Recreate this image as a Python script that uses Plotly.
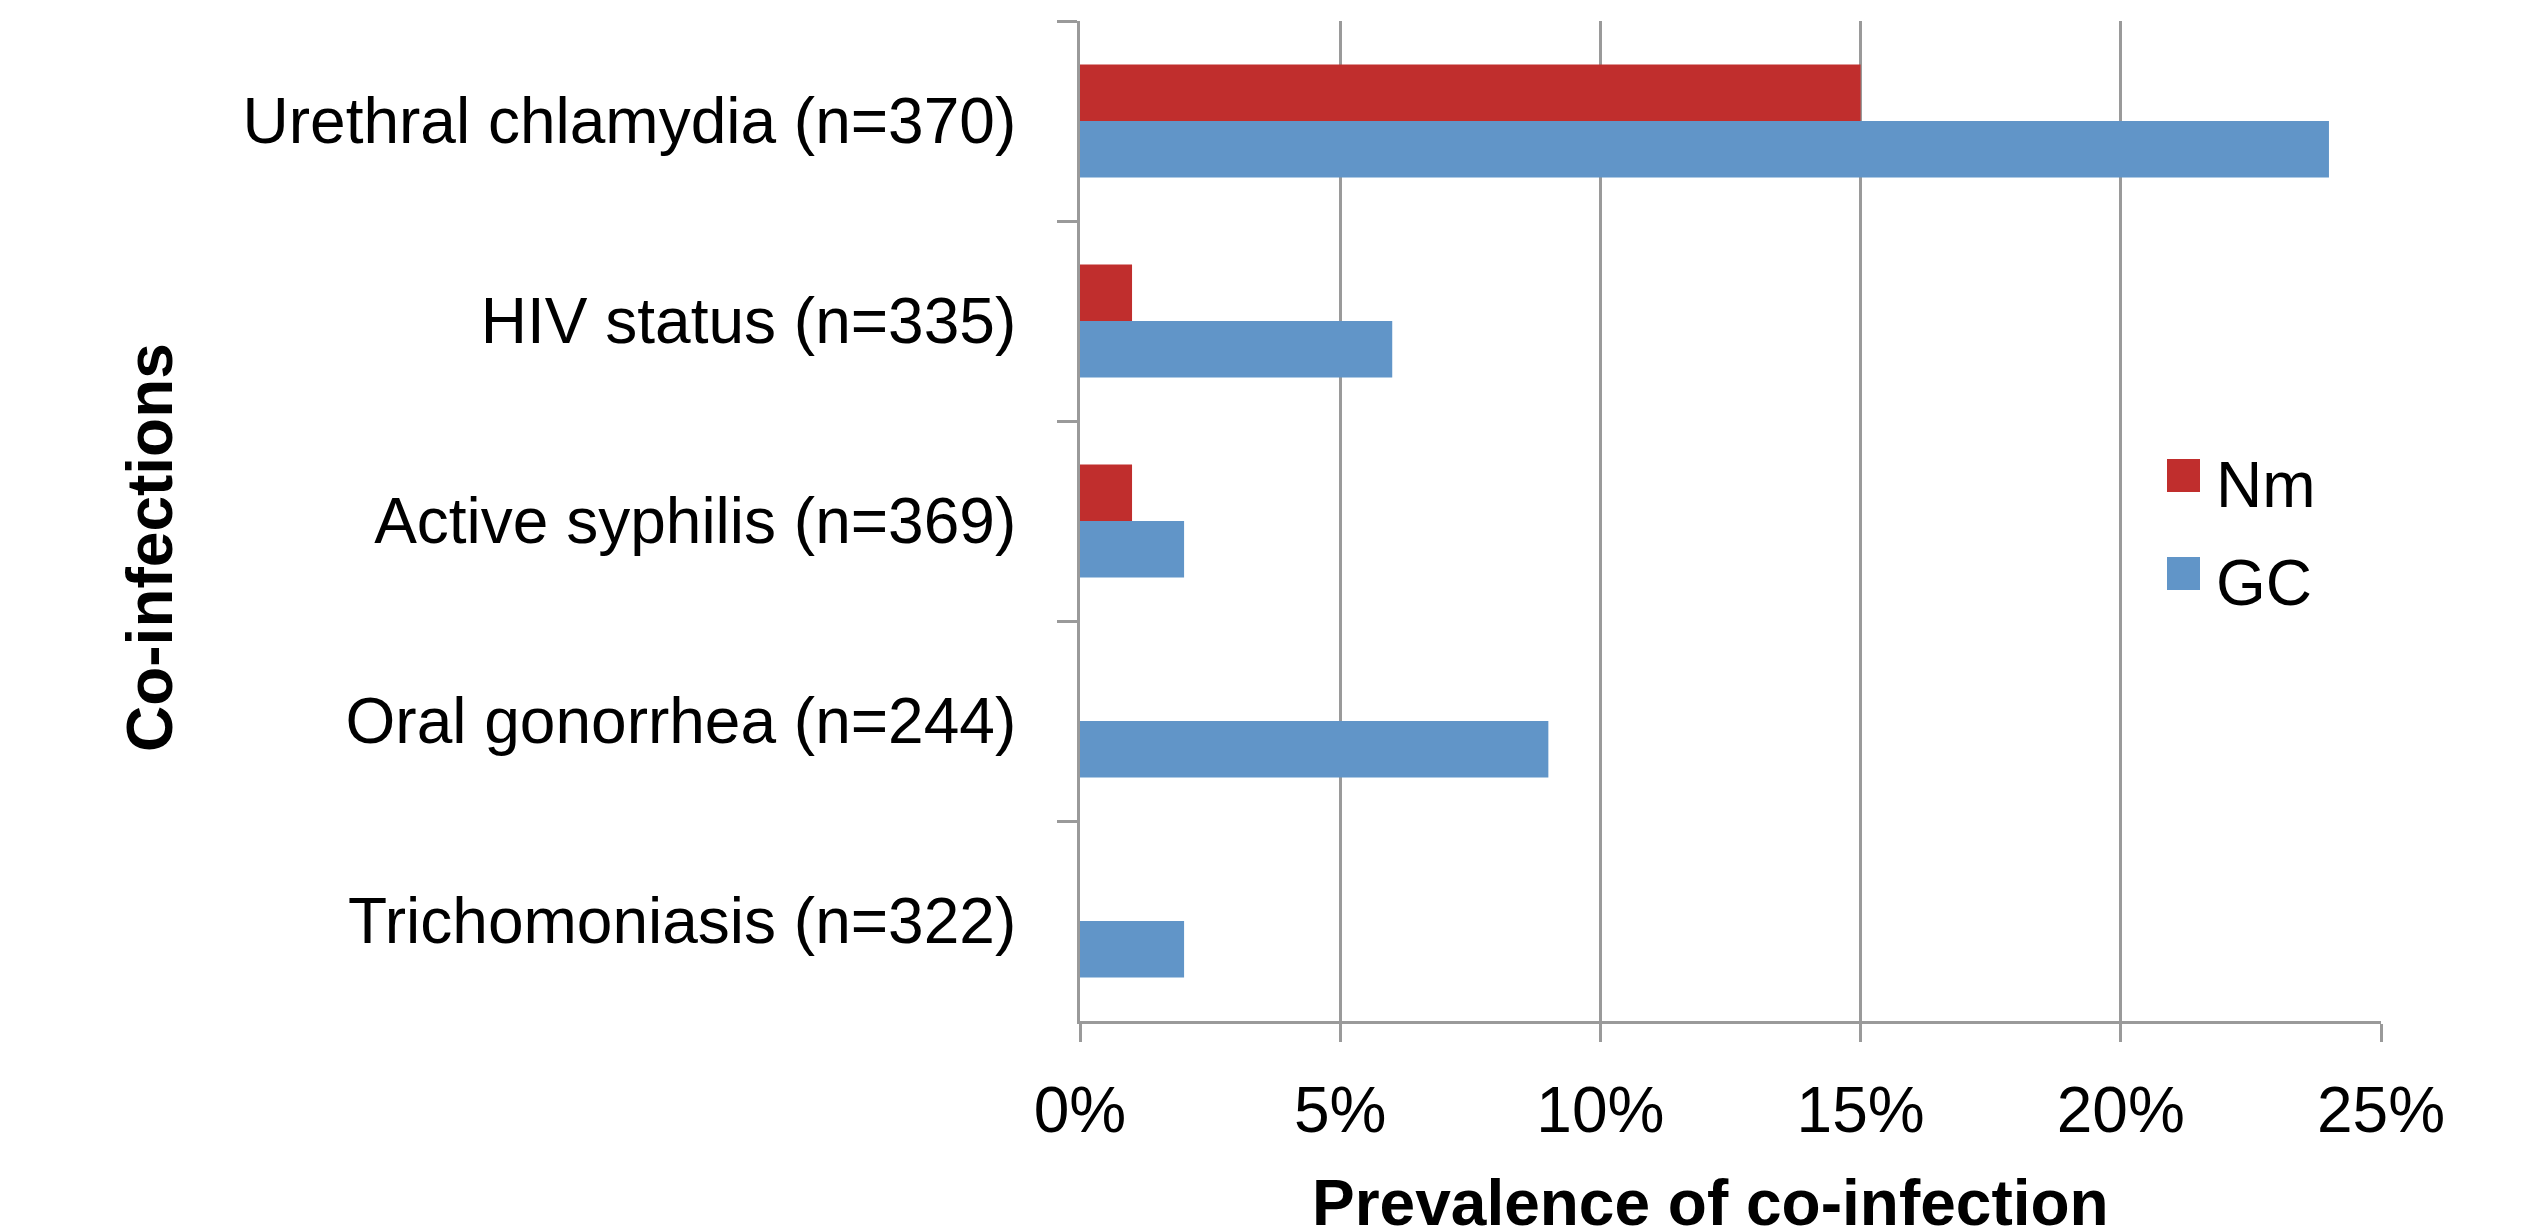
import plotly.graph_objects as go

categories = [
    "Urethral chlamydia (n=370)",
    "HIV status (n=335)",
    "Active syphilis (n=369)",
    "Oral gonorrhea (n=244)",
    "Trichomoniasis (n=322)",
]
series_names = ["Nm", "GC"]
nm_values = [0.15, 0.01, 0.01, 0.0, 0.0]
gc_values = [0.24, 0.06, 0.02, 0.09, 0.02]
series_values = [nm_values, gc_values]
colors = ["#C02E2D", "#6195C8"]
x_tick_vals = [0, 0.05, 0.10, 0.15, 0.20, 0.25]

FONT = "Liberation Sans, Arial, sans-serif"
GRID = "#9A9A9A"

# the page body has a default 8px margin; compensate so the screen matches
OFF = 8
SW, SH = 2530, 1232
W, H = SW - OFF, SH - OFF
# target plot area in screen pixels
PX0, PX1, PY0, PY1 = 1080, 2381, 21, 1021
L = PX0 - OFF
T = PY0 - OFF
R = W - (PX1 - OFF)
B = H - (PY1 - OFF)
pw = PX1 - PX0
ph = PY1 - PY0

fig = go.Figure()
for name, vals, col in zip(series_names, series_values, colors):
    fig.add_trace(go.Bar(
        y=categories, x=vals, name=name, orientation="h",
        marker=dict(color=col, line=dict(width=0)),
        showlegend=False,
    ))

def px_x(xp):
    return (xp - PX0) / pw

def px_y(yp):
    return (PY1 - yp) / ph

shapes = []
annotations = []
# manual legend (large square keys)
leg_x0, leg_y0, sq, step = 2167, 459, 33, 98
for i, (name, col) in enumerate(zip(series_names, colors)):
    y0 = leg_y0 + i * step
    shapes.append(dict(type="rect", xref="paper", yref="paper",
                       x0=px_x(leg_x0), x1=px_x(leg_x0 + sq),
                       y0=px_y(y0 + sq), y1=px_y(y0),
                       fillcolor=col, line=dict(width=0)))
    annotations.append(dict(text=name, xref="paper", yref="paper",
                            x=px_x(leg_x0 + sq + 14), y=px_y(y0 + sq / 2 + 9),
                            xanchor="left", yanchor="middle", showarrow=False,
                            font=dict(family=FONT, size=64, color="black")))

# axis titles
annotations.append(dict(text="<b>Prevalence of co-infection</b>", xref="paper", yref="paper",
                        x=px_x(1710), y=px_y(1203), xanchor="center", yanchor="middle",
                        showarrow=False, font=dict(family=FONT, size=64, color="black")))
annotations.append(dict(text="<b>Co-infections</b>", xref="paper", yref="paper",
                        x=px_x(150), y=px_y(547), xanchor="center", yanchor="middle",
                        textangle=-90, showarrow=False,
                        font=dict(family=FONT, size=64, color="black")))

fig.update_layout(
    width=W, height=H,
    margin=dict(l=L, r=R, t=T, b=B, autoexpand=False),
    paper_bgcolor="white", plot_bgcolor="white",
    barmode="group", bargap=0.435, bargroupgap=0,
    font=dict(family=FONT, size=64, color="black"),
    shapes=shapes, annotations=annotations,
    showlegend=False,
)
fig.update_xaxes(
    range=[0, 0.25], tickvals=x_tick_vals, tickformat=".0%",
    showgrid=True, gridcolor=GRID, gridwidth=3,
    showline=True, linecolor=GRID, linewidth=3,
    ticks="outside", ticklen=18, tickwidth=3, tickcolor=GRID,
    ticklabelstandoff=13, zeroline=False,
    tickfont=dict(family=FONT, size=64, color="black"),
)
fig.update_yaxes(
    categoryorder="array", categoryarray=categories, autorange="reversed",
    showgrid=False, showline=True, linecolor=GRID, linewidth=3,
    ticks="outside", tickson="boundaries", ticklen=20, tickwidth=3, tickcolor=GRID,
    ticklabelstandoff=48,
    tickfont=dict(family=FONT, size=64, color="black"),
)

fig.write_html("out.html")
